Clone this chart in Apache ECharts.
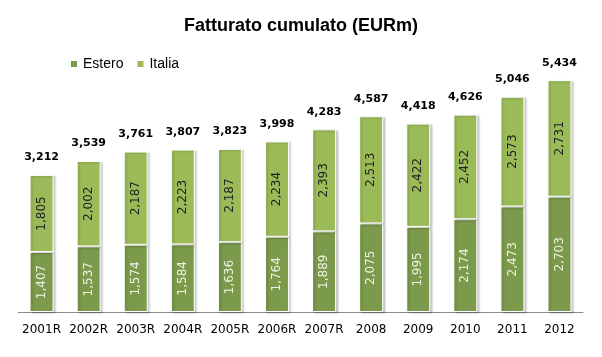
<!DOCTYPE html>
<html>
<head>
<meta charset="utf-8">
<script src="https://cdn.jsdelivr.net/npm/echarts@6/dist/echarts.min.js"></script>
<style>html,body{margin:0;padding:0;background:#fff;}#c{width:602px;height:357px;}</style>
</head>
<body>
<div id="c"></div>
<script>
const categories = ['2001R','2002R','2003R','2004R','2005R','2006R','2007R','2008','2009','2010','2011','2012'];
const estero = [1407,1537,1574,1584,1636,1764,1889,2075,1995,2174,2473,2703];
const italia = [1805,2002,2187,2223,2187,2234,2393,2513,2422,2452,2573,2731];
const totals = [3212,3539,3761,3807,3823,3998,4283,4587,4418,4626,5046,5434];

const fmt = v => v.toLocaleString('en-US');
const chart = echarts.init(document.getElementById('c'));
const shadow = {shadowColor:'rgba(0,0,0,0.2)', shadowBlur:2, shadowOffsetX:2, shadowOffsetY:1};
chart.setOption({
  animation:false,
  title:{text:'Fatturato cumulato (EURm)', left:'center', top:12,
    textStyle:{fontFamily:'Liberation Sans', fontSize:18, fontWeight:'bold', color:'#000'}},
  legend:{data:['Estero','Italia'], left:64, top:52, icon:'rect', itemWidth:8, itemHeight:8, itemGap:12,
    textStyle:{fontFamily:'Liberation Sans', fontSize:14, color:'#000'}},
  grid:{left:18, right:19, top:56, bottom:45},
  xAxis:{type:'category', data:categories,
    axisLine:{lineStyle:{color:'#8c8c8c'}}, axisTick:{show:false},
    axisLabel:{interval:0, fontFamily:'DejaVu Sans', fontSize:12, color:'#000', margin:12}},
  yAxis:{type:'value', min:0, max:6000, show:false, splitLine:{show:false}},
  series:[
    {name:'Estero', type:'bar', stack:'t', data:estero, barWidth:24,
      itemStyle:Object.assign({color:'#7b9a4b', borderColor:'#fff', borderWidth:1}, shadow),
      label:{show:true, position:'inside', rotate:90, formatter:p=>fmt(p.value),
        fontFamily:'DejaVu Sans', fontSize:12, color:'#eef3e2'}},
    {name:'Italia', type:'bar', stack:'t', data:italia, barWidth:24,
      itemStyle:Object.assign({color:'#9bbb59', borderColor:'#fff', borderWidth:1}, shadow),
      label:{show:true, position:'inside', rotate:90, formatter:p=>fmt(p.value),
        fontFamily:'DejaVu Sans', fontSize:12, color:'#222'}},
    {name:'Totale', type:'bar', stack:'t', data:categories.map(()=>0), barWidth:24,
      itemStyle:{color:'transparent'},
      label:{show:true, position:'top', distance:12, formatter:p=>fmt(totals[p.dataIndex]),
        fontFamily:'DejaVu Sans', fontSize:11, fontWeight:'bold', color:'#000'}}
  ]
});
</script>
</body>
</html>
